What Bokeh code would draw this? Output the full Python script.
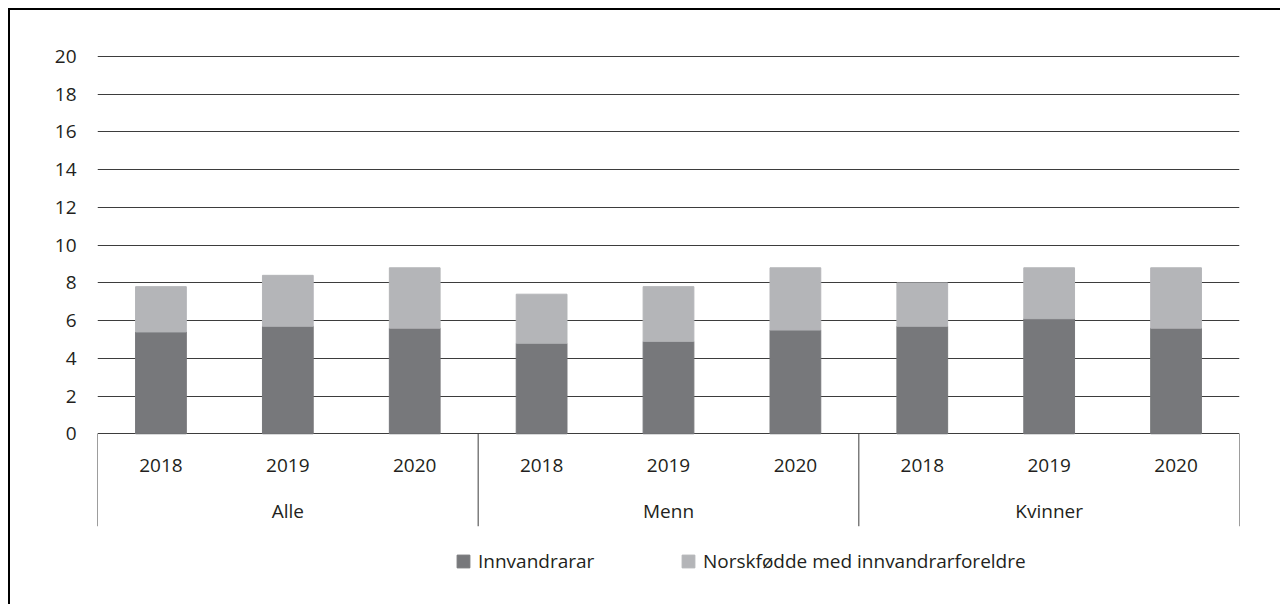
from bokeh.plotting import figure
from bokeh.models import FactorRange, Range1d, FixedTicker, Legend, LegendItem, ColumnDataSource
from bokeh.core.properties import value
from bokeh.embed import file_html
from bokeh.resources import INLINE

# ---- data ----
groups = ["Alle", "Menn", "Kvinner"]
years = ["2018", "2019", "2020"]
innvandrarar = [5.4, 5.7, 5.6, 4.8, 4.9, 5.5, 5.7, 6.1, 5.6]
norskfodde = [2.4, 2.7, 3.2, 2.6, 2.9, 3.3, 2.3, 2.7, 3.2]
series = ["Innvandrarar", "Norskfødde med innvandrarforeldre"]
colors = ["#77787b", "#b4b5b8"]
y_ticks = list(range(0, 21, 2))

FONT = "Open Sans"
FSIZE = "19px"
TXT = "#231f20"

factors = [(g, y) for g in groups for y in years]

p = figure(
    x_range=FactorRange(*factors, group_padding=0, factor_padding=0, range_padding=0),
    y_range=Range1d(-9.155, 20.106),
    width=1272, height=596,
    output_backend="svg", toolbar_location=None,
    min_border_left=87, min_border_right=43, min_border_top=44, min_border_bottom=0,
)
p.styles = {"border-top": "2px solid #000", "border-left": "2px solid #000",
            "margin-left": "8px", "margin-top": "8px"}
p.outline_line_color = None
p.xaxis.visible = False
p.xgrid.visible = False

p.yaxis.ticker = FixedTicker(ticks=y_ticks)
p.yaxis.axis_line_color = None
p.yaxis.major_tick_line_color = None
p.yaxis.minor_tick_line_color = None
p.yaxis.major_tick_out = 0
p.yaxis.major_tick_in = 0
p.yaxis.major_label_standoff = 21
p.yaxis.major_label_text_font = FONT
p.yaxis.major_label_text_font_size = FSIZE
p.yaxis.major_label_text_color = TXT
p.ygrid.grid_line_color = "#3d3d3d"
p.ygrid.grid_line_width = 1

source = ColumnDataSource(dict(x=factors, inn=innvandrarar, nor=norskfodde))
rs = p.vbar_stack(["inn", "nor"], x="x", width=0.4, color=colors, source=source)

# category table lines below the bars
bx = [(g, -1.5) for g in groups] + [(groups[-1], 1.5)]
p.segment(x0=bx, y0=[0] * len(bx), x1=bx, y1=[-4.9] * len(bx),
          line_color="#3d3d3d", line_width=1)

# category labels
p.text(x=factors, y=[-1.68] * len(factors), text=[f[1] for f in factors],
       text_align="center", text_baseline="middle",
       text_font=value(FONT), text_font_size=value(FSIZE), text_color=TXT)
p.text(x=groups, y=[-4.09] * len(groups), text=groups,
       text_align="center", text_baseline="middle",
       text_font=value(FONT), text_font_size=value(FSIZE), text_color=TXT)

legend = Legend(
    items=[LegendItem(label=series[i], renderers=[rs[i]]) for i in range(2)],
    orientation="horizontal", location=(358, 32),
    glyph_width=16, glyph_height=16, label_standoff=7, label_width=200, spacing=2,
    padding=0, margin=0, border_line_color=None, background_fill_alpha=0,
    label_text_font=FONT, label_text_font_size=FSIZE, label_text_color=TXT,
)
p.add_layout(legend, "center")

open("out.html", "w").write(file_html(p, INLINE))
